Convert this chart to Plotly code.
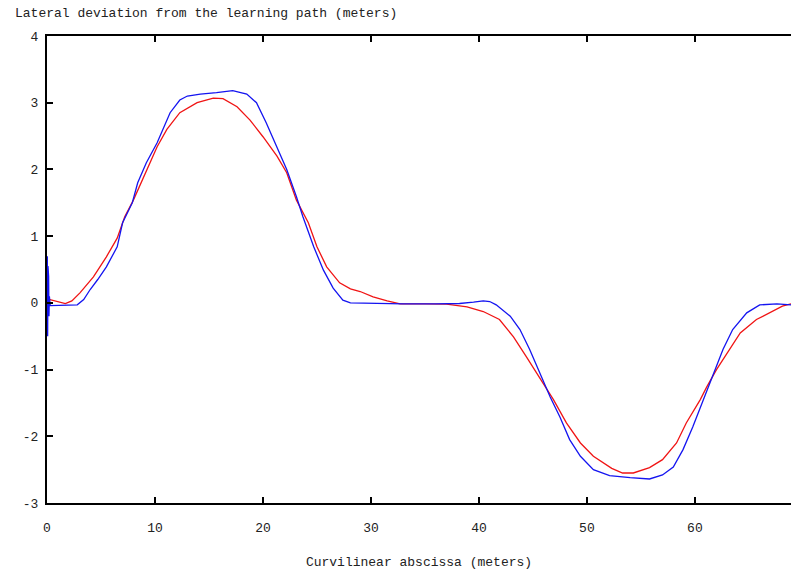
import plotly.graph_objects as go

# ---- data ----
blue_x = [0, 0.03, 0.06, 0.09, 0.12, 0.15, 0.18, 0.22, 0.3, 1.0, 2.0, 2.8, 3.4, 4.0, 4.7, 5.5,
          6.5, 7.0, 7.9, 8.4, 9.2, 10.2, 11.4, 12.3, 13.0, 14.2, 15.7, 17.2, 18.5, 19.4, 20.3,
          21.3, 22.2, 23.1, 23.7, 24.7, 25.6, 26.5, 27.4, 28.1, 30, 33, 36, 38.2, 39.5, 40.4,
          41.0, 41.6, 42.9, 43.8, 44.7, 45.6, 46.6, 47.5, 48.4, 49.4, 50.6, 52.1, 53.1, 54.0,
          55.8, 57.0, 58.0, 58.9, 59.8, 60.8, 61.7, 62.6, 63.5, 64.8, 66.0, 67.6, 68.9]
blue_y = [0.0, 0.7, -0.5, 0.55, -0.35, 0.4, -0.2, 0.1, -0.04, -0.04, -0.04, -0.03, 0.05, 0.2,
          0.35, 0.54, 0.84, 1.2, 1.5, 1.8, 2.1, 2.4, 2.85, 3.04, 3.1, 3.13, 3.15, 3.18, 3.13,
          3.0, 2.7, 2.32, 2.0, 1.59, 1.29, 0.84, 0.49, 0.22, 0.04, 0.0, -0.01, -0.015, -0.015,
          -0.01, 0.01, 0.03, 0.02, -0.03, -0.2, -0.4, -0.7, -1.05, -1.41, -1.71, -2.05, -2.3,
          -2.5, -2.59, -2.61, -2.62, -2.64, -2.58, -2.46, -2.2, -1.86, -1.45, -1.05, -0.7, -0.4,
          -0.15, -0.03, -0.015, -0.03]

red_x = [0, 0.5, 1.0, 1.7, 2.3, 3.05, 4.3, 5.5, 6.5, 7.2, 8.0, 8.9, 9.8, 10.2, 11.1, 12.3,
         13.9, 15.4, 16.3, 17.6, 18.8, 20.0, 21.3, 22.2, 23.1, 24.2, 25.0, 25.9, 27.1, 28.1,
         29.0, 30.2, 31.5, 32.7, 35, 37, 38.9, 40.4, 41.9, 43.2, 44.4, 45.6, 46.9, 48.1, 49.4,
         50.6, 51.5, 52.3, 53.3, 54.3, 55.8, 57.0, 58.3, 59.2, 60.5, 61.1, 62.0, 63.0, 64.2,
         65.7, 67.2, 68.1, 68.9]
red_y = [0.06, 0.04, 0.02, -0.01, 0.03, 0.15, 0.39, 0.69, 0.97, 1.29, 1.54, 1.87, 2.19, 2.34,
         2.6, 2.85, 3.0, 3.07, 3.06, 2.94, 2.74, 2.49, 2.2, 1.95, 1.54, 1.2, 0.84, 0.54, 0.3,
         0.21, 0.17, 0.09, 0.03, -0.015, -0.015, -0.02, -0.06, -0.13, -0.25, -0.51, -0.81,
         -1.11, -1.45, -1.8, -2.1, -2.3, -2.4, -2.48, -2.55, -2.55, -2.47, -2.35, -2.1, -1.8,
         -1.45, -1.26, -1.0, -0.75, -0.45, -0.25, -0.13, -0.05, -0.015]

x_ticks = [0, 10, 20, 30, 40, 50, 60]
y_ticks = [-3, -2, -1, 0, 1, 2, 3, 4]

title_text = "Lateral deviation from the learning path (meters)"
xlabel_text = "Curvilinear abscissa (meters)"

FONT = "Liberation Mono, DejaVu Sans Mono, monospace"
FS = 13

fig = go.Figure()
fig.add_trace(go.Scatter(x=red_x, y=red_y, mode="lines",
                         line=dict(color="#f01414", width=1.3), showlegend=False))
fig.add_trace(go.Scatter(x=blue_x, y=blue_y, mode="lines",
                         line=dict(color="#1414f0", width=1.3), showlegend=False))

fig.update_layout(
    width=791, height=575,
    margin=dict(l=47, r=0, t=36, b=72, autoexpand=False),
    paper_bgcolor="white", plot_bgcolor="white",
    font=dict(family=FONT, size=FS, color="#222"),
    showlegend=False,
    annotations=[dict(text=title_text, xref="paper", yref="paper",
                      x=-0.0457, y=1.049, xanchor="left", yanchor="middle",
                      showarrow=False, font=dict(family=FONT, size=FS, color="#222"))],
)
fig.update_xaxes(
    range=[0, 68.9], tickvals=x_ticks, ticktext=[str(v) for v in x_ticks],
    showgrid=False, zeroline=False,
    showline=True, linecolor="black", linewidth=2, mirror="ticks",
    ticks="inside", ticklen=6, tickwidth=2, tickcolor="black",
    title=dict(text=xlabel_text, standoff=22, font=dict(family=FONT, size=FS)),
    ticklabelstandoff=11,
)
fig.update_yaxes(
    range=[-3, 4], tickvals=y_ticks, ticktext=[str(v) for v in y_ticks],
    showgrid=False, zeroline=False,
    showline=True, linecolor="black", linewidth=2,
    ticks="inside", ticklen=6, tickwidth=2, tickcolor="black",
    ticklabelstandoff=4,
)

fig.write_html("out.html",
               config={"displayModeBar": False},
               post_script="document.body.style.margin='0';document.body.style.overflow='hidden';")
